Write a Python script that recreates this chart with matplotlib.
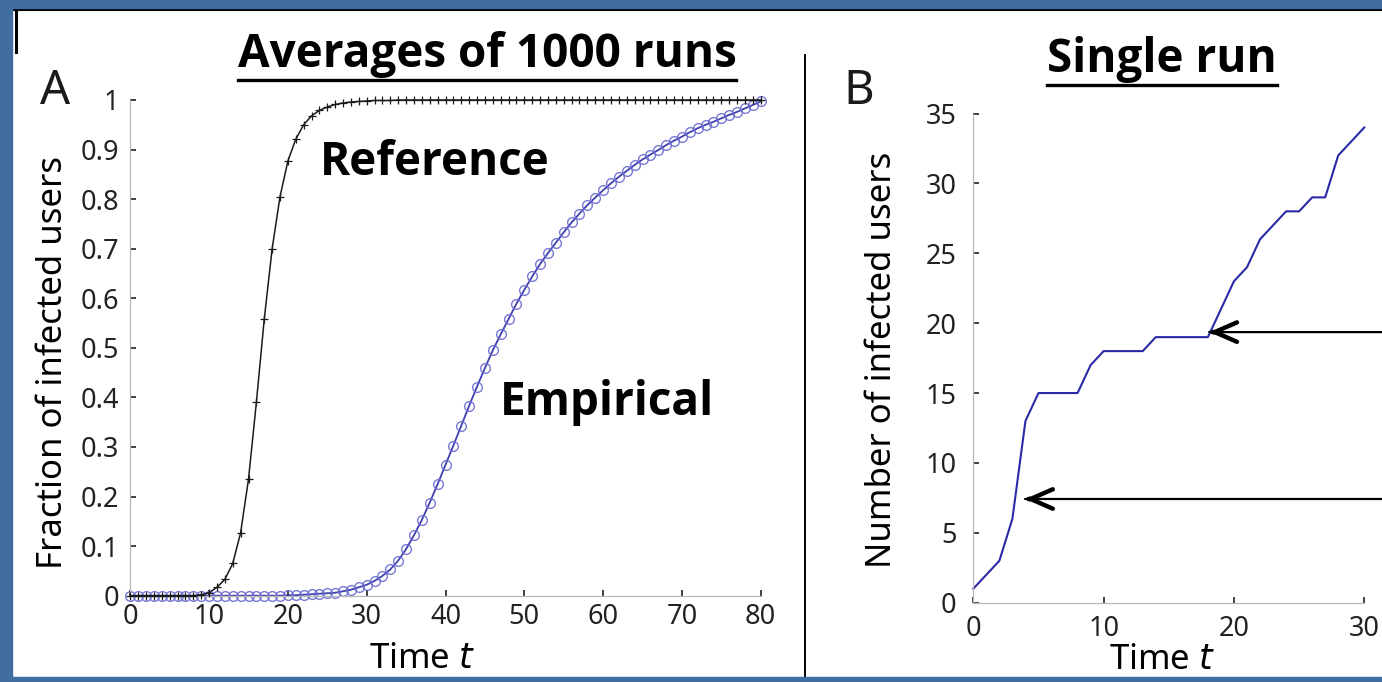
import matplotlib.pyplot as plt
import numpy as np
from matplotlib.lines import Line2D
from matplotlib.patches import Rectangle

# Panel A: averaged fraction of infected users over 1000 runs
avg_time = np.arange(0, 81)
reference = [
    0.0, 0.0, 0.0, 0.0, 0.0, 0.0, 0.0, 0.0, 0.0, 0.002,
    0.006, 0.017, 0.033, 0.065, 0.127, 0.235, 0.39, 0.558, 0.70, 0.805,
    0.877, 0.921, 0.95, 0.968, 0.979, 0.986, 0.991, 0.994, 0.996, 0.997,
    0.998, 0.999, 0.999, 0.999, 1.0, 1.0, 1.0, 1.0, 1.0, 1.0,
    1.0, 1.0, 1.0, 1.0, 1.0, 1.0, 1.0, 1.0, 1.0, 1.0,
    1.0, 1.0, 1.0, 1.0, 1.0, 1.0, 1.0, 1.0, 1.0, 1.0,
    1.0, 1.0, 1.0, 1.0, 1.0, 1.0, 1.0, 1.0, 1.0, 1.0,
    1.0, 1.0, 1.0, 1.0, 1.0, 1.0, 1.0, 1.0, 1.0, 1.0,
    1.0,
]
empirical = [
    0.0, 0.0, 0.0, 0.0, 0.0, 0.0, 0.0, 0.0, 0.0, 0.0,
    0.0, 0.0, 0.0, 0.0, 0.0, 0.0, 0.0, 0.0, 0.0, 0.0,
    0.001, 0.001, 0.002, 0.003, 0.004, 0.005, 0.006, 0.009, 0.012, 0.017,
    0.022, 0.030, 0.040, 0.053, 0.071, 0.094, 0.122, 0.153, 0.188, 0.225,
    0.264, 0.303, 0.343, 0.383, 0.422, 0.459, 0.495, 0.527, 0.558, 0.589,
    0.617, 0.644, 0.669, 0.691, 0.712, 0.733, 0.753, 0.771, 0.788, 0.803,
    0.818, 0.832, 0.845, 0.857, 0.869, 0.880, 0.890, 0.899, 0.909, 0.918,
    0.926, 0.935, 0.943, 0.950, 0.956, 0.963, 0.970, 0.976, 0.983, 0.990,
    0.997,
]
frac_ticks = [0, 0.1, 0.2, 0.3, 0.4, 0.5, 0.6, 0.7, 0.8, 0.9, 1]
frac_labels = ["0", "0.1", "0.2", "0.3", "0.4", "0.5", "0.6", "0.7", "0.8", "0.9", "1"]

# Panel B: one simulated run
run_time = np.arange(0, 31)
infected = [
    1, 2, 3, 6, 13, 15, 15, 15, 15, 17,
    18, 18, 18, 18, 19, 19, 19, 19, 19, 21,
    23, 24, 26, 27, 28, 28, 29, 29, 32, 33,
    34,
]
# points the two arrows aim at (time, count)
arrow_targets = [(18.1, 19.36), (3.97, 7.42)]

TICK_FONT = "Noto Sans"
BOLD_FONT = "Open Sans"
LINE_BLUE = "#2a2aa6"
RING_BLUE = "#6a6ad0"
FRAME_BLUE = "#416ea0"

W, H = 1382, 682
fig = plt.figure(figsize=(W / 100, H / 100), dpi=100)


def px_rect(x0, y0, x1, y1):
    # pixel box (origin top-left) -> figure fraction rect
    return [x0 / W, 1 - y1 / H, (x1 - x0) / W, (y1 - y0) / H]


def style_axes(ax, xpad, ypad):
    for side in ("top", "right"):
        ax.spines[side].set_visible(False)
    for side in ("left", "bottom"):
        ax.spines[side].set_color("#b8b8b8")
        ax.spines[side].set_linewidth(0.9)
    ax.tick_params(direction="in", length=4, width=1.2, color="#202020",
                   labelsize=19.5, labelcolor="#222222")
    ax.tick_params(axis="x", pad=xpad)
    ax.tick_params(axis="y", pad=ypad)
    for lab in ax.get_xticklabels() + ax.get_yticklabels():
        lab.set_fontfamily(TICK_FONT)


# ---- panel A ----
axA = fig.add_axes(px_rect(130.3, 100, 760.7, 595.7))
axA.plot(avg_time, reference, color="#1a1a1a", lw=1.1, marker="+", ms=6,
         mew=0.9, clip_on=False, zorder=3)
axA.plot(avg_time, empirical, color=LINE_BLUE, lw=1.3, marker="o", ms=7,
         mfc="none", mec=RING_BLUE, mew=1.0, alpha=0.9, clip_on=False, zorder=2)
axA.set_xlim(0, 80)
axA.set_ylim(0, 1)
axA.set_xticks(np.arange(0, 81, 10))
axA.set_yticks(frac_ticks)
axA.set_yticklabels(frac_labels)
style_axes(axA, xpad=5, ypad=8)
axA.set_xlabel("Time $\\mathit{t}$", fontsize=25, family=TICK_FONT)
axA.set_ylabel("Fraction of infected users", fontsize=25, family=TICK_FONT)
axA.xaxis.set_label_coords(0.463, -0.093)
axA.yaxis.set_label_coords(-0.096, 0.47)
axA.text(24.1, 0.873, "Reference", fontsize=33, fontweight="bold",
         family=BOLD_FONT, ha="left", va="center")
axA.text(46.9, 0.389, "Empirical", fontsize=33, fontweight="bold",
         family=BOLD_FONT, ha="left", va="center")

# ---- panel B ----
axB = fig.add_axes(px_rect(973.3, 113.5, 1364.3, 602.7))
axB.plot(run_time, infected, color=LINE_BLUE, lw=1.5, clip_on=False)
axB.set_xlim(0, 30)
axB.set_ylim(0, 35)
axB.set_xticks([0, 10, 20, 30])
axB.set_yticks(np.arange(0, 36, 5))
style_axes(axB, xpad=9, ypad=12)
axB.set_xlabel("Time $\\mathit{t}$", fontsize=25, family=TICK_FONT)
axB.set_ylabel("Number of infected users", fontsize=25, family=TICK_FONT)
axB.xaxis.set_label_coords(0.483, -0.082)
axB.yaxis.set_label_coords(-0.19, 0.496)
for tx, ty in arrow_targets:
    # thin shaft coming in from the right edge, then a heavy open head
    axB.annotate("", xy=(tx, ty), xytext=(32.0, ty),
                 arrowprops=dict(arrowstyle="-", color="black", lw=1.6,
                                 shrinkA=0, shrinkB=0),
                 annotation_clip=False)
    axB.annotate("", xy=(tx, ty), xytext=(tx + 0.4, ty),
                 arrowprops=dict(arrowstyle="->,head_length=1.6,head_width=0.7",
                                 mutation_scale=10, color="black", lw=3.2,
                                 shrinkA=0, shrinkB=0, capstyle="round"),
                 annotation_clip=False)

# panel letters
fig.text(40 / W, 1 - 104 / H, "A", fontsize=34, family=TICK_FONT, ha="left",
         va="baseline", color="#1a1a1a")
fig.text(843 / W, 1 - 104 / H, "B", fontsize=34, family=TICK_FONT, ha="left",
         va="baseline", color="#1a1a1a")

# underlined headings
titles = [
    fig.text(487 / W, 1 - 67 / H, "Averages of 1000 runs", fontsize=33,
             fontweight="bold", family=BOLD_FONT, ha="center", va="baseline"),
    fig.text(1162 / W, 1 - 72 / H, "Single run", fontsize=33,
             fontweight="bold", family=BOLD_FONT, ha="center", va="baseline"),
]
fig.canvas.draw()
renderer = fig.canvas.get_renderer()
for t in titles:
    bb = t.get_window_extent(renderer)
    y = (bb.y0 - 2) / H
    fig.add_artist(Line2D([bb.x0 / W, bb.x1 / W], [y, y], color="black",
                          lw=2.4, transform=fig.transFigure))

# slide frame and divider
fig.add_artist(Rectangle((0, 0), 12 / W, 1, color=FRAME_BLUE,
                         transform=fig.transFigure, zorder=10))
fig.add_artist(Rectangle((0, 1 - 8 / H), 1, 8 / H, color=FRAME_BLUE,
                         transform=fig.transFigure, zorder=10))
fig.add_artist(Rectangle((0, 0), 1, 5 / H, color=FRAME_BLUE,
                         transform=fig.transFigure, zorder=10))
fig.add_artist(Line2D([13 / W, 1], [1 - 10 / H, 1 - 10 / H], color="black",
                      lw=1.5, transform=fig.transFigure))
fig.add_artist(Line2D([15.5 / W, 15.5 / W], [1 - 10 / H, 1 - 52 / H],
                      color="black", lw=2.2, transform=fig.transFigure))
fig.add_artist(Line2D([804.5 / W, 804.5 / W], [1 - 55 / H, 0], color="black",
                      lw=1.4, transform=fig.transFigure))

fig.savefig("out.png", dpi=100)
